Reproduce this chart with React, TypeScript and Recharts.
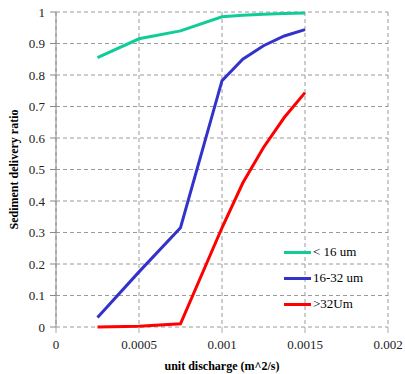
import { LineChart, Line, XAxis, YAxis, CartesianGrid } from "recharts";

// unit discharge (m^2/s) at each sampling point
const discharge = [0.00025, 0.0005, 0.00075, 0.001, 0.001125, 0.00125, 0.001375, 0.0015];

// sediment delivery ratio per particle size class
const fine = [0.855, 0.915, 0.94, 0.985, 0.99, 0.993, 0.995, 0.997];
const medium = [0.03, 0.175, 0.315, 0.782, 0.85, 0.893, 0.924, 0.944];
const coarse = [0, 0.002, 0.01, 0.315, 0.457, 0.57, 0.665, 0.744];

const xTicks = [0, 0.0005, 0.001, 0.0015, 0.002];
const yTicks = [0, 0.1, 0.2, 0.3, 0.4, 0.5, 0.6, 0.7, 0.8, 0.9, 1];

const series = [
  { key: "fine", name: "< 16 um", color: "#10CC98" },
  { key: "medium", name: "16-32 um", color: "#3333CC" },
  { key: "coarse", name: ">32Um", color: "#FF0000" },
];

const data = discharge.map((q, i) => ({
  q,
  fine: fine[i],
  medium: medium[i],
  coarse: coarse[i],
}));

const font = "Liberation Serif";

export default function App() {
  return (
    <div
      style={{
        position: "absolute",
        left: 0,
        top: 0,
        width: 405,
        height: 374,
        background: "#fff",
        fontFamily: font,
      }}
    >
      <LineChart
        width={405}
        height={374}
        data={data}
        margin={{ top: 12, right: 17, bottom: 6, left: 0 }}
        style={{ fontFamily: font }}
      >
        <CartesianGrid stroke="#9a9a9a" strokeDasharray="4 3" />
        <XAxis
          dataKey="q"
          type="number"
          domain={[0, 0.002]}
          ticks={xTicks}
          axisLine={false}
          tickLine={{ stroke: "#aaa" }}
          tickSize={6}
          tickMargin={7}
          height={41}
          tick={{ fontFamily: font, fontSize: 13, fill: "#222" }}
          label={{
            value: "unit discharge (m^2/s)",
            position: "insideBottom",
            offset: -2,
            style: { fontFamily: font, fontSize: 12, fontWeight: "bold", fill: "#000" },
          }}
        />
        <YAxis
          type="number"
          domain={[0, 1]}
          ticks={yTicks}
          width={56}
          axisLine={{ stroke: "#888" }}
          tickLine={{ stroke: "#888" }}
          tickSize={6}
          tickMargin={5}
          tick={{ fontFamily: font, fontSize: 13, fill: "#222" }}
          label={{
            value: "Sediment delivery ratio",
            angle: -90,
            position: "insideLeft",
            offset: 14,
            style: {
              fontFamily: font,
              fontSize: 12,
              fontWeight: "bold",
              fill: "#000",
              textAnchor: "middle",
            },
          }}
        />
        {series.map((s) => (
          <Line
            key={s.key}
            type="linear"
            dataKey={s.key}
            name={s.name}
            stroke={s.color}
            strokeWidth={3}
            dot={false}
            isAnimationActive={false}
          />
        ))}
      </LineChart>
      {/* series key, sitting inside the lower right of the plot */}
      <div
        style={{
          position: "absolute",
          left: 284,
          top: 239,
          fontSize: 13,
          color: "#000",
          lineHeight: "26px",
        }}
      >
        {series.map((s) => (
          <div key={s.key} style={{ display: "flex", alignItems: "center", height: 26 }}>
            <div style={{ width: 27, height: 3, background: s.color, marginRight: 2 }} />
            <span>{s.name}</span>
          </div>
        ))}
      </div>
    </div>
  );
}
